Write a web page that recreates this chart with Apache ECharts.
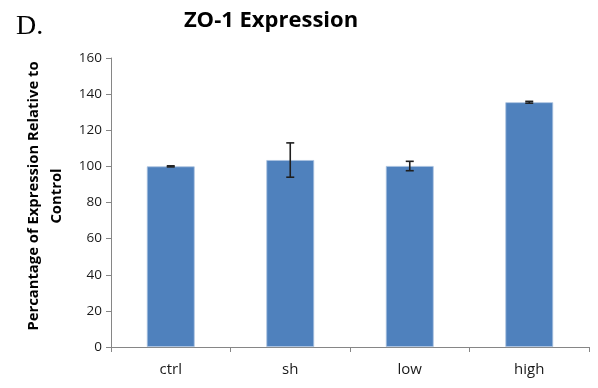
<!DOCTYPE html>
<html>
<head>
<meta charset="utf-8">
<script src="https://cdn.jsdelivr.net/npm/echarts@6/dist/echarts.min.js"></script>
<style>
  html, body { margin: 0; padding: 0; background: #fff; }
  #chart { width: 598px; height: 388px; }
</style>
</head>
<body>
<div id="chart"></div>
<script>
// ZO-1 expression, percentage relative to control
var categories = ['ctrl', 'sh', 'low', 'high'];
var expression = [100, 103.5, 100.2, 135.5];
var errors = [0.3, 9.5, 2.6, 0.5];
var yTicks = [0, 20, 40, 60, 80, 100, 120, 140, 160];

var chart = echarts.init(document.getElementById('chart'));

var errorData = categories.map(function (c, i) {
  return [i, expression[i] - errors[i], expression[i] + errors[i]];
});

chart.setOption({
  animation: false,
  title: [
    {
      text: 'ZO-1 Expression',
      left: 266, top: 5, textAlign: 'center',
      textStyle: { fontFamily: 'Open Sans', fontWeight: 'bold', fontSize: 22, color: '#000' }
    },
    {
      text: 'D.',
      left: 11, top: 8,
      textStyle: { fontFamily: 'Liberation Serif', fontWeight: 'normal', fontSize: 28, color: '#000' }
    }
  ],
  grid: { left: 111, right: 9, top: 58, bottom: 41 },
  xAxis: {
    type: 'category',
    data: categories,
    axisLine: { lineStyle: { color: '#868686', width: 1 } },
    axisTick: { show: true, length: 5, lineStyle: { color: '#868686' } },
    axisLabel: { fontFamily: 'Open Sans', fontSize: 15, color: '#1a1a1a', margin: 15 }
  },
  yAxis: {
    type: 'value',
    min: yTicks[0], max: yTicks[yTicks.length - 1], interval: 20,
    name: 'Percantage of Expression Relative to\nControl',
    nameLocation: 'middle',
    nameGap: 40,
    nameTextStyle: {
      fontFamily: 'Open Sans', fontWeight: 'bold', fontSize: 14.8, color: '#000',
      lineHeight: 23, padding: [0, 0, 0, 13]
    },
    axisLine: { show: true, lineStyle: { color: '#868686', width: 1 } },
    axisTick: { show: true, length: 5, lineStyle: { color: '#868686' } },
    axisLabel: { fontFamily: 'Open Sans', fontSize: 13.5, color: '#1a1a1a', margin: 9 },
    splitLine: { show: false }
  },
  series: [
    {
      type: 'bar',
      data: expression,
      barWidth: '40%',
      itemStyle: { color: '#4f81bd', borderColor: '#a9c1e0', borderWidth: 0.8 }
    },
    {
      type: 'custom',
      data: errorData,
      z: 10,
      renderItem: function (params, api) {
        var x = api.value(0);
        var lo = api.coord([x, api.value(1)]);
        var hi = api.coord([x, api.value(2)]);
        var cap = 4;
        var style = { stroke: '#1f1f1f', lineWidth: 1.6 };
        return {
          type: 'group',
          children: [
            { type: 'line', shape: { x1: lo[0], y1: lo[1], x2: hi[0], y2: hi[1] }, style: style },
            { type: 'line', shape: { x1: lo[0] - cap, y1: lo[1], x2: lo[0] + cap, y2: lo[1] }, style: style },
            { type: 'line', shape: { x1: hi[0] - cap, y1: hi[1], x2: hi[0] + cap, y2: hi[1] }, style: style }
          ]
        };
      }
    }
  ]
});
</script>
</body>
</html>
